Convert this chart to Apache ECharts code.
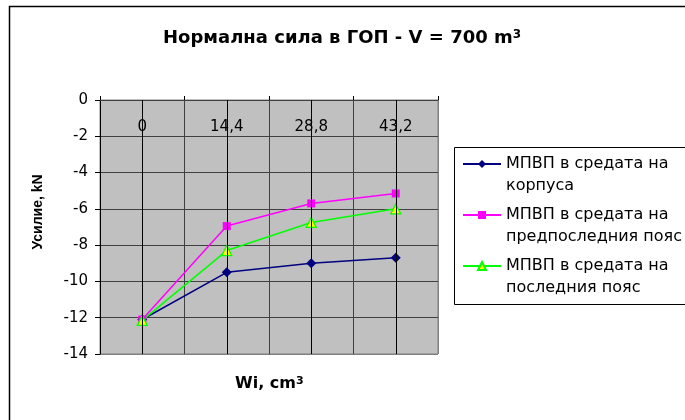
<!DOCTYPE html>
<html><head><meta charset="utf-8">
<script src="https://cdn.jsdelivr.net/npm/echarts@6/dist/echarts.min.js"></script>
<style>html,body{margin:0;padding:0;background:#fff}#c{width:685px;height:420px}</style>
</head><body><div id="c"></div>
<script>
const categories = ['0', '14,4', '28,8', '43,2'];
const seriesNames = ['МПВП в средата на\nкорпуса', 'МПВП в средата на\nпредпоследния пояс', 'МПВП в средата на\nпоследния пояс'];
const korpus = [-12.1, -9.5, -9.0, -8.7];
const predposleden = [-12.1, -6.95, -5.7, -5.15];
const posleden = [-12.15, -8.3, -6.75, -6.0];
const yMin = -14, yMax = 0, yStep = 2;
const titleText = 'Нормална сила в ГОП - V = 700 m';
const yTitle = 'Усилие, kN';
const xTitle = 'Wi, cm';

const FONT = 'DejaVu Sans';
const chart = echarts.init(document.getElementById('c'), null, {renderer: 'canvas'});
const hGrid = ['#808080', '#404040', '#404040', '#404040', '#404040', '#404040', '#404040', '#404040'];
const vGrid = ['#404040', '#404040', '#404040', '#404040', '#808080'];

chart.setOption({
  animation: false,
  backgroundColor: '#fff',
  title: [
    {text: titleText + '{sup|3}', left: 163, top: 29, padding: 0,
     textStyle: {fontFamily: FONT, fontWeight: 'bold', fontSize: 18, color: '#000',
       rich: {sup: {fontFamily: FONT, fontWeight: 'bold', fontSize: 12, color: '#000', verticalAlign: 'top', lineHeight: 12}}}},
    {text: xTitle + '{sup|3}', left: 235, top: 376, padding: 0,
     textStyle: {fontFamily: FONT, fontWeight: 'bold', fontSize: 16, color: '#000',
       rich: {sup: {fontFamily: FONT, fontWeight: 'bold', fontSize: 11, color: '#000', verticalAlign: 'top', lineHeight: 11}}}}
  ],
  graphic: [
    {type: 'rect', silent: true, shape: {x: 9.5, y: 6.5, width: 700, height: 450}, style: {fill: 'none', stroke: '#000', lineWidth: 1.5}},
    {type: 'rect', silent: true, shape: {x: 454.5, y: 147.5, width: 240, height: 157}, style: {fill: 'none', stroke: '#000', lineWidth: 1}}
  ],
  legend: {
    orient: 'vertical', left: 462, top: 131, padding: 0, itemGap: -15,
    itemWidth: 38, itemHeight: 10, selectedMode: false,
    data: seriesNames,
    formatter: n => '\n' + n,
    textStyle: {fontFamily: FONT, fontSize: 16, color: '#000', lineHeight: 22}
  },
  grid: {left: 100, top: 100, width: 338, height: 254, show: true, backgroundColor: '#c0c0c0',
         borderColor: '#808080', borderWidth: 1, containLabel: false, outerBoundsMode: 'none'},
  xAxis: {
    type: 'category', position: 'top', data: categories, boundaryGap: true,
    axisLine: {show: true, onZero: false, lineStyle: {color: '#404040', width: 1}},
    axisTick: {show: true, inside: false, length: 4, lineStyle: {color: '#000'}},
    axisLabel: {inside: true, margin: 20, color: '#000', fontFamily: FONT, fontSize: 15},
    splitLine: {show: true, lineStyle: {color: vGrid, width: 1}}
  },
  yAxis: {
    type: 'value', min: yMin, max: yMax, interval: yStep,
    axisLine: {show: true, lineStyle: {color: '#000', width: 1}},
    axisTick: {show: true, length: 5, lineStyle: {color: '#000'}},
    axisLabel: {color: '#000', fontFamily: FONT, fontSize: 15, margin: 12},
    splitLine: {show: true, lineStyle: {color: hGrid, width: 1}},
    name: yTitle, nameLocation: 'middle', nameGap: 55, nameRotate: 90,
    nameTextStyle: {fontFamily: 'Liberation Sans', fontWeight: 'bold', fontSize: 14, color: '#000', padding: [0, 0, 0, 30]}
  },
  series: [
    {type: 'line', name: 'grid-centers', data: [], z: 1, silent: true,
     markLine: {silent: true, symbol: ['none', 'none'], label: {show: false}, animation: false,
       lineStyle: {color: '#000', type: 'solid', width: 1},
       emphasis: {disabled: true},
       data: categories.map(c => ({xAxis: c}))}},
    {type: 'line', name: seriesNames[0], data: korpus, z: 3, symbol: 'diamond', symbolSize: 10,
     itemStyle: {color: '#000080'}, lineStyle: {color: '#000080', width: 1.5}},
    {type: 'line', name: seriesNames[1], data: predposleden, z: 3, symbol: 'rect', symbolSize: 8,
     itemStyle: {color: '#ff00ff'}, lineStyle: {color: '#ff00ff', width: 1.5}},
    {type: 'line', name: seriesNames[2], data: posleden, z: 3, symbol: 'triangle', symbolSize: 10,
     itemStyle: {color: '#ffff00', borderColor: '#00ff00', borderWidth: 1.2}, lineStyle: {color: '#00ff00', width: 1.5}}
  ]
});
</script></body></html>
